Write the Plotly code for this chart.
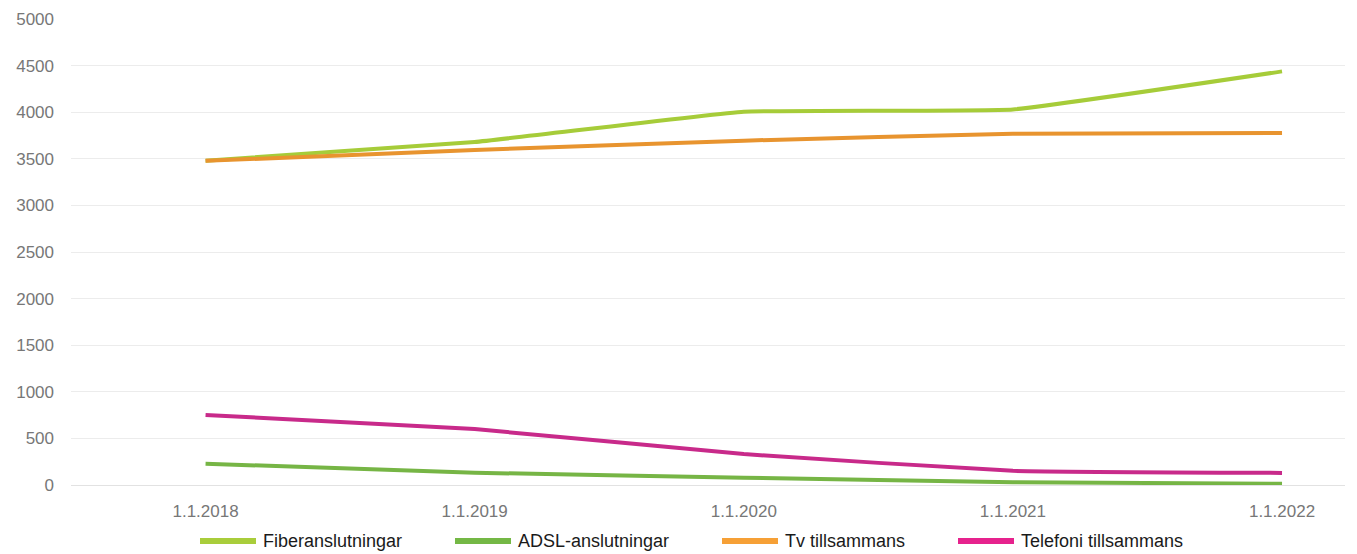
import plotly.graph_objects as go

dates = ["1.1.2018", "1.1.2019", "1.1.2020", "1.1.2021", "1.1.2022"]
fiber = [3480, 3680, 4005, 4030, 4438]
adsl = [228, 132, 78, 30, 13]
tv = [3478, 3595, 3695, 3768, 3778]
telefoni = [752, 600, 332, 152, 130]

names = ["Fiberanslutningar", "ADSL-anslutningar", "Tv tillsammans", "Telefoni tillsammans"]
values = [fiber, adsl, tv, telefoni]
line_colors = ["#a6cc39", "#76b545", "#e8942f", "#c82a8a"]
legend_colors = ["#a9cd3b", "#74b845", "#f6a036", "#e6228d"]

W, H = 1349, 546
ML, MR, MT, MB = 63, 12, 11, 69
PW, PH = W - ML - MR, H - MT - MB

fig = go.Figure()
for name, vals, col in zip(names, values, line_colors):
    fig.add_trace(go.Scatter(
        x=dates, y=vals, name=name, mode="lines",
        line=dict(color=col, width=4, shape="spline", smoothing=0.3),
        showlegend=False,
    ))

# custom legend (long line symbols like the reference)
leg_start_px = [192, 447, 714, 950]
leg_len = 56
leg_y = (H - MB - 533) / PH
for name, col, x0 in zip(names, legend_colors, leg_start_px):
    fig.add_shape(type="line", xref="paper", yref="paper",
                  x0=(x0 - ML) / PW, x1=(x0 + leg_len - ML) / PW, y0=leg_y, y1=leg_y,
                  line=dict(color=col, width=6), layer="above")
    fig.add_annotation(xref="paper", yref="paper", x=(x0 + leg_len + 5 - ML) / PW, y=leg_y,
                       xanchor="left", yanchor="middle", text=name, showarrow=False,
                       font=dict(size=18, color="#1a1a1a"))

fig.update_layout(
    width=W, height=H,
    margin=dict(l=ML, r=MR, t=MT, b=MB, autoexpand=False),
    plot_bgcolor="white", paper_bgcolor="white",
    font=dict(family="Liberation Sans, Arial, sans-serif", size=17, color="#222"),
    showlegend=False,
    xaxis=dict(type="category", range=[-0.5, 4.234], showgrid=False,
               tickfont=dict(size=17, color="#777"), ticks="", showline=False,
               zeroline=False, ticklabelstandoff=14),
    yaxis=dict(range=[0, 5000], dtick=500, showgrid=True, gridcolor="#ececec",
               gridwidth=1, zeroline=True, zerolinecolor="#e2e2e2", zerolinewidth=1,
               tickfont=dict(size=17, color="#777"), ticks="", ticklabelstandoff=16,
               showline=False),
)

fig.write_html("out.html")
